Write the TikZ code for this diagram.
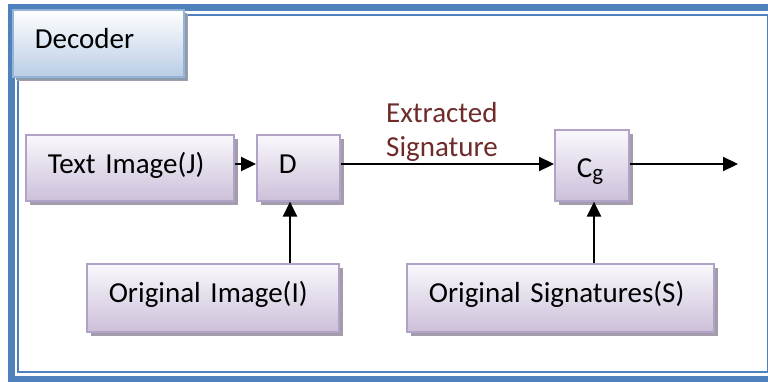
\documentclass[tikz,border=0pt]{standalone}
\usepackage{fontspec}
\setmainfont{Carlito}
\usetikzlibrary{arrows.meta,shadows}

\definecolor{frameblue}{HTML}{4F81BD}
\definecolor{hdrtop}{HTML}{FFFFFF}
\definecolor{hdrbot}{HTML}{B9CDE5}
\definecolor{hdrline}{HTML}{95B3D7}
\definecolor{boxtop}{HTML}{FAF8FC}
\definecolor{boxbot}{HTML}{CCC0DA}
\definecolor{boxline}{HTML}{B3A2C7}
\definecolor{boxshadow}{HTML}{A39DAB}
\definecolor{hdrshadow}{HTML}{8E9BAC}
\definecolor{labelred}{HTML}{6E2B2A}

% subscript set a little smaller and lower than the main text
\newcommand{\lowsub}[1]{\raisebox{-2.5pt}{\fontsize{23}{23}\selectfont #1}}

\tikzset{
  x=1pt, y=-1pt,
  txt/.style={font=\fontsize{29}{34}\selectfont},
  blockbox/.style={txt, draw=boxline, line width=1.6pt,
    top color=boxtop, bottom color=boxbot,
    drop shadow={shadow xshift=4pt, shadow yshift=-4pt, fill=boxshadow, opacity=1},
    align=left, inner xsep=22pt, inner ysep=0pt, anchor=north west},
  hdrbox/.style={blockbox, draw=hdrline, top color=hdrtop, bottom color=hdrbot,
    drop shadow={shadow xshift=3pt, shadow yshift=-3pt, fill=hdrshadow, opacity=1}},
  flow/.style={line width=2.2pt, -{Triangle[length=15pt,width=14pt]}},
}

\begin{document}
\begin{tikzpicture}
\useasboundingbox (0,0) rectangle (768,381);

% outer double frame
\draw[frameblue, line width=7pt] (11,7.5) rectangle (790,379);
\draw[frameblue, line width=2pt] (18,15) rectangle (767.5,372);

% header tab
\node[hdrbox, text width=127pt, text height=39pt, text depth=28pt] (dec) at (12,9) {Decoder};

% blocks
\node[blockbox, text width=164pt, text height=39pt, text depth=27pt] (ti) at (25,134) {Text Image(J)};
\node[blockbox, text width=39pt, text height=39pt, text depth=27pt] (d) at (256,134) {D};
\node[blockbox, text width=30pt, text height=48pt, text depth=23pt] (cg) at (554,129) {C\lowsub{g}};
\node[blockbox, text width=208pt, text height=39pt, text depth=29pt] (oi) at (86,263) {Original Image(I)};
\node[blockbox, text width=263pt, text height=39pt, text depth=29pt] (os) at (406,263) {Original Signatures(S)};

% label over the signature path (base = baseline of the last line)
\node[txt, text=labelred, align=left, anchor=base west, inner sep=0pt] (lbl) at (386,156)
  {Extracted\\Signature};

% free end of the output arrow
\coordinate (out) at (738,164);

% connectors
\draw[flow] (ti.east |- 0,164) -- (d.west |- 0,164);
\draw[flow] (d.east |- 0,164) -- (cg.west |- 0,164);
\draw[flow] (cg.east |- 0,164) -- (out);
\draw[flow] (oi.north -| 290,0) -- (d.south -| 290,0);
\draw[flow] (os.north -| 594,0) -- (cg.south -| 594,0);
\end{tikzpicture}
\end{document}
